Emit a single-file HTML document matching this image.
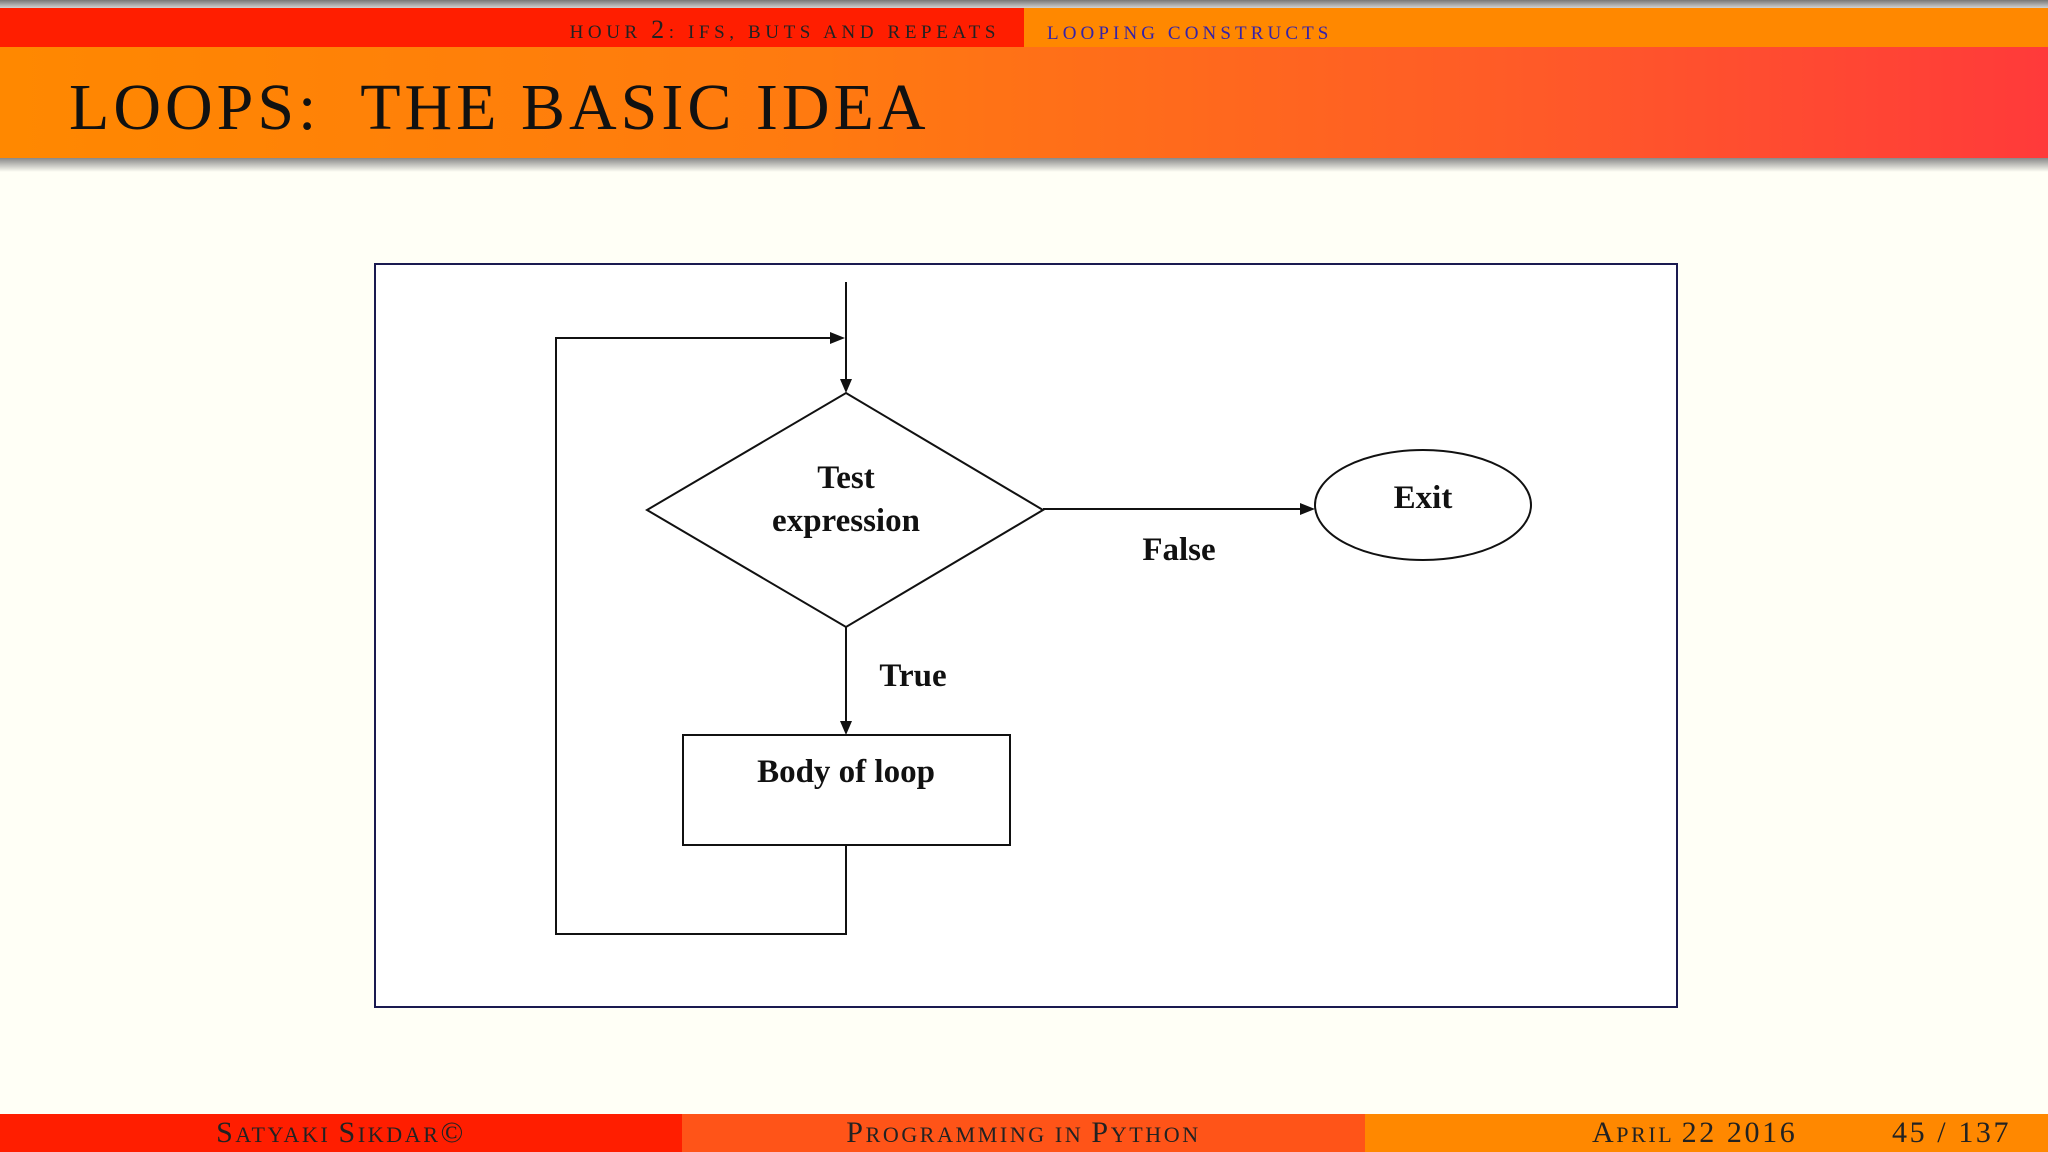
<!DOCTYPE html>
<html><head><meta charset="utf-8"><style>
body{margin:0;width:2048px;height:1152px;background:#fffff6;position:relative;overflow:hidden;font-family:"Liberation Serif",serif}
.a{position:absolute}
.h{font-size:19px;line-height:28px;white-space:nowrap;text-transform:uppercase}
.h b{font-weight:normal;font-size:26px}
.f{font-size:22px;letter-spacing:2.6px;color:#222;white-space:nowrap;text-transform:uppercase}
.f b{font-weight:normal;font-size:30px}
</style></head><body>
<div class="a" style="left:0;top:0;width:2048px;height:9px;background:linear-gradient(#777,#ddd)"></div>
<div class="a" style="left:0;top:8px;width:1024px;height:39px;background:#ff1e00"></div>
<div class="a" style="left:1024px;top:8px;width:1024px;height:39px;background:#ff8800"></div>
<div class="a h" style="right:1048px;top:16px;color:#222;letter-spacing:4.6px">hour <b>2</b>: ifs, buts and repeats</div>
<div class="a h" style="left:1047px;top:20px;color:#3322aa;letter-spacing:4.1px">looping constructs</div>
<div class="a" style="left:0;top:47px;width:2048px;height:111px;background:linear-gradient(90deg,#ff8800 0%,#ff7a10 40%,#ff5a28 75%,#ff3a3a 100%)"></div>
<div class="a" style="left:0;top:158px;width:2048px;height:14px;background:linear-gradient(#888,#fffff6)"></div>
<div class="a" style="left:69px;top:70px;font-size:66px;color:#111;letter-spacing:4px;white-space:nowrap">LOOPS:&nbsp; THE BASIC IDEA</div>

<svg class="a" style="left:0;top:0" width="2048" height="1152">
<rect x="375" y="264" width="1302" height="743" fill="#fff" stroke="#1a1a50" stroke-width="2"/>
<g stroke="#111" stroke-width="2" fill="none">
<line x1="846" y1="282" x2="846" y2="384"/>
<polyline points="846,735 846,934 556,934 556,338 836,338"/>
<polygon points="846,393 1043,510 846,627 647,510" fill="#fff"/>
<line x1="846" y1="627" x2="846" y2="726"/>
<line x1="1043" y1="509" x2="1303" y2="509"/>
<rect x="683" y="735" width="327" height="110" fill="#fff"/>
<ellipse cx="1423" cy="505" rx="108" ry="55" fill="#fff"/>
</g>
<g fill="#111">
<polygon points="840,379 852,379 846,393"/>
<polygon points="830,332 830,344 845,338"/>
<polygon points="840,721 852,721 846,735"/>
<polygon points="1300,503 1300,515 1315,509"/>
</g>
<g font-family="Liberation Serif,serif" font-weight="bold" font-size="33" text-anchor="middle" fill="#111">
<text x="846" y="488">Test</text>
<text x="846" y="531">expression</text>
<text x="1423" y="508">Exit</text>
<text x="1179" y="560">False</text>
<text x="913" y="686">True</text>
<text x="846" y="782">Body of loop</text>
</g>
</svg>

<div class="a" style="left:0;top:1114px;width:682px;height:38px;background:#ff1e00"></div>
<div class="a" style="left:682px;top:1114px;width:683px;height:38px;background:#ff5418"></div>
<div class="a" style="left:1365px;top:1114px;width:683px;height:38px;background:#ff8800"></div>
<div class="a f" style="left:0;width:682px;top:1116px;text-align:center"><b>S</b>atyaki <b>S</b>ikdar<b>©</b></div>
<div class="a f" style="left:682px;width:683px;top:1116px;text-align:center"><b>P</b>rogramming in <b>P</b>ython</div>
<div class="a f" style="left:1592px;top:1116px"><b>A</b>pril <b>22 2016</b></div>
<div class="a f" style="left:1892px;top:1116px"><b>45 / 137</b></div>
</body></html>
